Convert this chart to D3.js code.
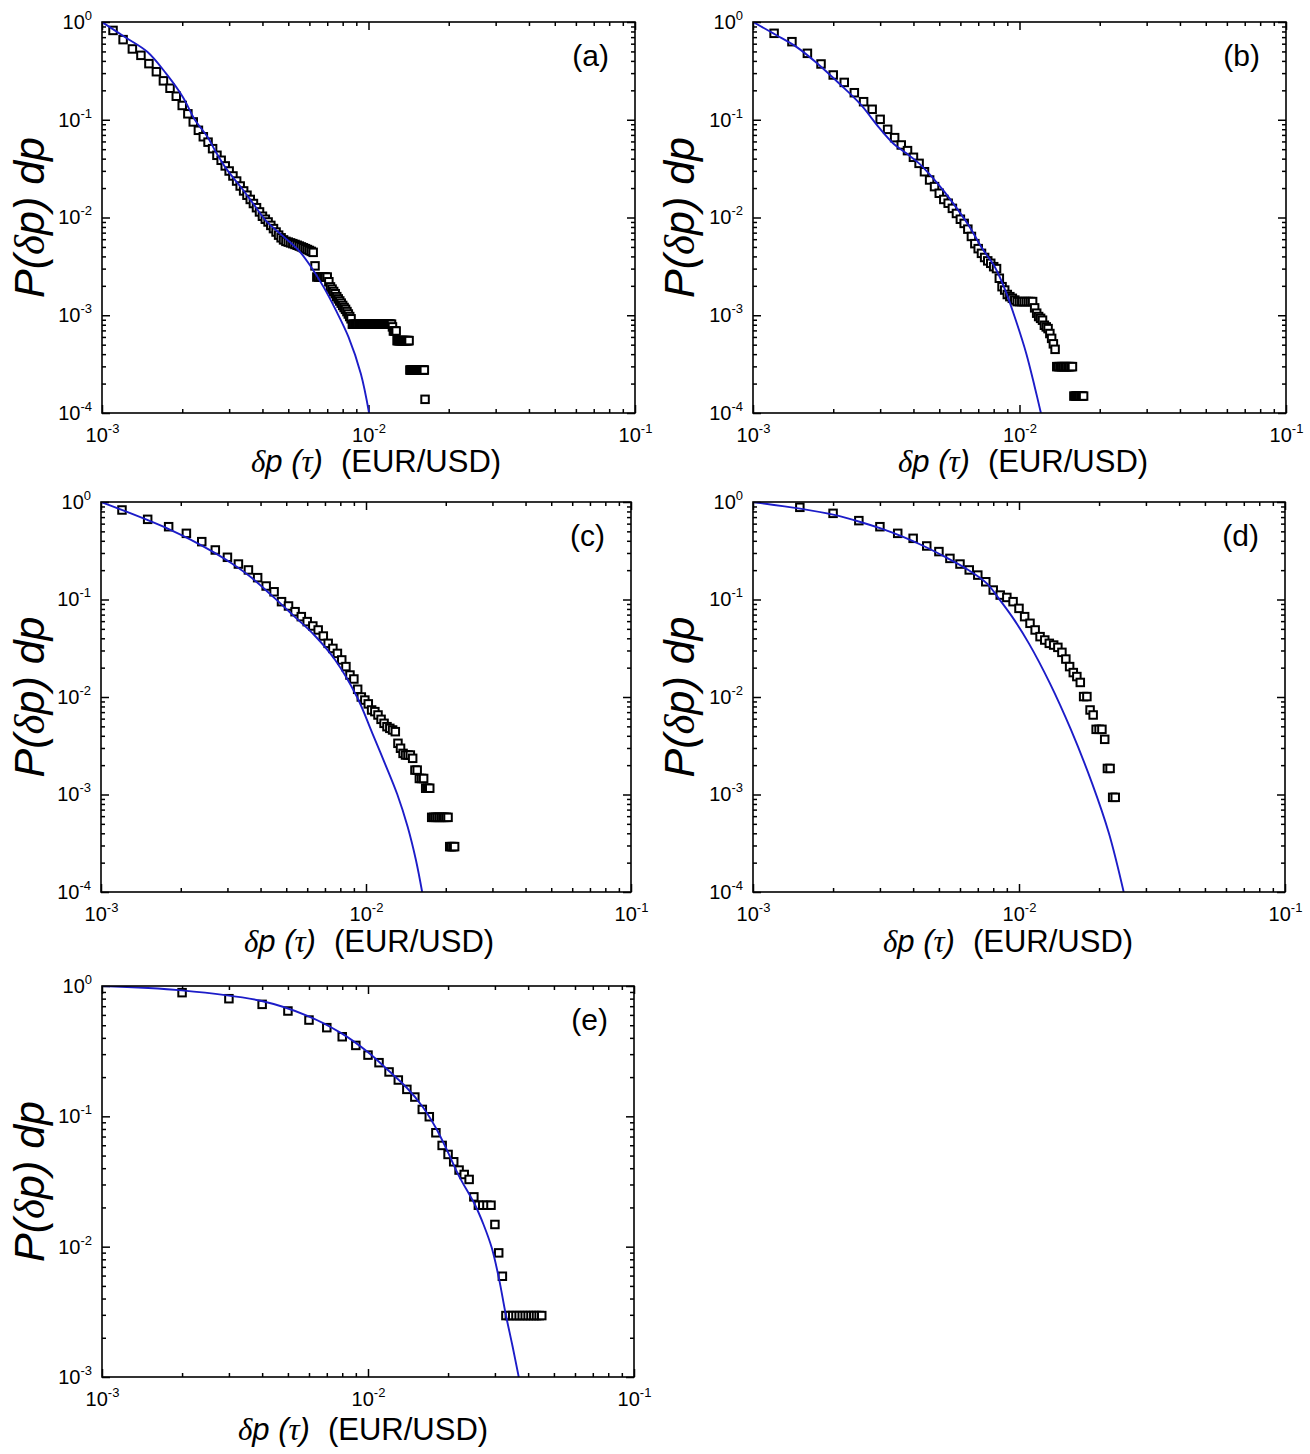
<!DOCTYPE html>
<html><head><meta charset="utf-8">
<script src="https://cdn.jsdelivr.net/npm/d3@7"></script>
<style>body{margin:0;background:#fff} svg{display:block}</style>
</head><body>
<svg id="chart" width="1310" height="1454"></svg>
<script>
// x values are in units of 1e-3 EUR/USD
const xTickValues = [1, 10, 100];
const xTickExps = ["-3", "-2", "-1"];
const yTickValues4 = [1, 0.1, 0.01, 0.001, 0.0001];
const yTickExps4 = ["0", "-1", "-2", "-3", "-4"];
const yTickValues3 = [1, 0.1, 0.01, 0.001];
const yTickExps3 = ["0", "-1", "-2", "-3"];
const panelLabels = ["(a)", "(b)", "(c)", "(d)", "(e)"];

const aX = [1.1,1.2,1.3,1.4,1.5,1.6,1.7,1.8,1.9,2.0,
2.1,2.2,2.3,2.4,2.5,2.6,2.7,2.8,2.9,3.0,
3.1,3.2,3.3,3.4,3.5,3.6,3.7,3.8,3.9,4.0,
4.1,4.2,4.3,4.4,4.5,4.6,4.7,4.8,4.9,5.0,
5.1,5.2,5.3,5.4,5.5,5.6,5.7,5.8,5.9,6.0,
6.1,6.2,6.3,6.4,6.5,6.6,6.7,6.8,6.9,7.0,
7.1,7.2,7.3,7.4,7.5,7.6,7.7,7.8,7.9,8.0,
8.1,8.2,8.3,8.4,8.5,8.6,8.7,8.8,8.9,9.0,
9.1,9.2,9.3,9.4,9.5,9.6,9.7,9.8,9.9,10.0,
10.1,10.2,10.3,10.4,10.5,10.6,10.7,10.8,10.9,11.0,
11.1,11.2,11.3,11.4,11.5,11.6,11.7,11.8,11.9,12.0,
12.1,12.2,12.3,12.4,12.5,12.6,12.7,12.8,12.9,13.0,
13.1,13.2,13.3,13.4,13.5,13.6,13.7,13.8,13.9,14.0,
14.1,14.2,14.3,14.4,14.5,14.6,14.7,14.8,14.9,15.0,
15.1,15.2,15.3,15.4,15.5,15.6,15.7,15.8,15.9,16.0,
16.1,16.2,16.3];
const aY = [0.82,0.66,0.53,0.456,0.375,0.31,0.25,0.21,0.174,0.14,
0.115,0.095,0.078,0.067,0.059,0.0506,0.0433,0.0385,0.0337,0.0299,
0.0266,0.0236,0.021,0.0187,0.0169,0.0153,0.0139,0.0126,0.0114,0.0103,
0.0096,0.009,0.0083,0.0077,0.0071,0.0066,0.0062,0.0059,0.0057,0.0056,
0.0055,0.0054,0.0053,0.0052,0.0051,0.005,0.0049,0.0048,0.0047,0.0046,
0.0045,0.0044,0.0032,0.00246,0.00246,0.00246,0.00246,0.00246,0.00246,0.00246,
0.0022,0.00195,0.00185,0.00175,0.00166,0.00155,0.00147,0.0014,0.00133,0.00126,
0.0012,0.00115,0.00109,0.00103,0.00097,0.00092,0.00081,0.00081,0.00081,0.00081,
0.00081,0.00081,0.00081,0.00081,0.00081,0.00081,0.00081,0.00081,0.00081,0.00081,
0.00081,0.00081,0.00081,0.00081,0.00081,0.00081,0.00081,0.00081,0.00081,0.00081,
0.00081,0.00081,0.00081,0.00081,0.00081,0.00081,0.00081,0.00081,0.00081,0.00081,
0.00081,0.00081,0.00076,0.00069,0.00069,0.00069,0.00069,0.00055,0.00055,0.00055,
0.00055,0.00055,0.00055,0.00055,0.00055,0.00055,0.00055,0.00055,0.00055,0.00055,
0.00055,0.00055,0.000275,0.000275,0.000275,0.000275,0.000275,0.000275,0.000275,0.000275,
0.000275,0.000275,0.000275,0.000275,0.000275,0.000275,0.000275,0.000275,0.000275,0.000275,
0.000275,0.000275,0.000138];
const aFitX = [1,1.218,1.482,1.741,2.01,2.237,2.49,2.675,2.925,3.317,3.69,4.11,4.74,5.47,6.09,6.78,7.55,8.41,9.36,10.05];
const aFitY = [1,0.702,0.493,0.296,0.171,0.0986,0.0667,0.0468,0.0316,0.0205,0.0139,0.00935,0.00657,0.00461,0.00312,0.00195,0.00112,0.0006,0.000252,0.0001];

const bX = [1.2,1.4,1.6,1.8,2.0,2.2,2.4,2.6,2.8,3.0,
3.2,3.4,3.6,3.8,4.0,4.2,4.4,4.6,4.8,5.0,
5.2,5.4,5.6,5.8,6.0,6.2,6.4,6.6,6.8,7.0,
7.2,7.4,7.6,7.8,8.0,8.2,8.4,8.6,8.8,9.0,
9.2,9.4,9.6,9.8,10.0,10.2,10.4,10.6,10.8,11.0,
11.2,11.4,11.6,11.8,12.0,12.2,12.4,12.6,12.8,13.0,
13.2,13.4,13.6,13.8,14.0,14.2,14.4,14.6,14.8,15.0,
15.2,15.4,15.6,15.8,16.0,16.2,16.4,16.6,16.8,17.0,
17.2,17.4];
const bY = [0.766,0.629,0.478,0.372,0.287,0.241,0.189,0.153,0.128,0.101,
0.0798,0.0656,0.0552,0.0483,0.0413,0.0358,0.0294,0.0242,0.0207,0.0177,
0.0153,0.014,0.0124,0.011,0.0096,0.0087,0.0076,0.0064,0.0054,0.0048,
0.0043,0.0039,0.0036,0.0034,0.00314,0.003,0.00239,0.00196,0.00181,0.00163,
0.00155,0.00149,0.00143,0.00138,0.00138,0.00138,0.00138,0.00138,0.00138,0.00138,
0.00138,0.00119,0.00105,0.00097,0.00093,0.00089,0.00079,0.00076,0.00073,0.00065,
0.00058,0.00051,0.000448,0.000298,0.000298,0.000298,0.000298,0.000298,0.000298,0.000298,
0.000298,0.000298,0.000298,0.000298,0.000149,0.000149,0.000149,0.000149,0.000149,0.000149,
0.000149,0.000149];
const bFitX = [1,1.221,1.464,1.756,2.106,2.525,2.973,3.376,3.765,4.198,4.682,5.221,5.821,6.493,7.238,8.072,8.84,9.68,10.6,11.4,12.03];
const bFitY = [1,0.736,0.55,0.37,0.235,0.145,0.083,0.0565,0.0453,0.0358,0.0262,0.01837,0.0124,0.00806,0.00484,0.00314,0.00181,0.000894,0.000407,0.000186,0.0001];

const cX = [1.2,1.5,1.8,2.1,2.4,2.7,3.0,3.3,3.6,3.9,
4.2,4.5,4.8,5.1,5.4,5.7,6.0,6.3,6.6,6.9,
7.2,7.5,7.8,8.1,8.4,8.7,9.0,9.3,9.6,9.9,
10.2,10.5,10.8,11.1,11.4,11.7,12.0,12.3,12.6,12.9,
13.2,13.5,13.8,14.1,14.4,14.7,15.0,15.3,15.6,15.9,
16.2,16.5,16.8,17.1,17.4,17.7,18.0,18.3,18.6,18.9,
19.2,19.5,19.8,20.1,20.4,20.7,21.0,21.3,21.6];
const cY = [0.828,0.664,0.558,0.477,0.392,0.322,0.271,0.231,0.201,0.1675,
0.1375,0.12,0.095,0.0858,0.075,0.0667,0.0593,0.0535,0.0487,0.0422,
0.0355,0.0315,0.028,0.024,0.0205,0.0168,0.0153,0.012,0.01,0.0093,
0.0085,0.00736,0.00708,0.00654,0.0059,0.00537,0.00496,0.00477,0.00459,0.00441,
0.00335,0.00298,0.00264,0.00254,0.00254,0.00254,0.00235,0.00178,0.00178,0.00146,
0.00146,0.00146,0.00116,0.00116,0.00116,0.000583,0.000583,0.000583,0.000583,0.000583,
0.000583,0.000583,0.000583,0.000583,0.000583,0.000292,0.000292,0.000292,0.000292];
const cFitX = [1,1.219,1.496,1.811,2.168,2.597,3.109,3.723,4.457,5.337,6.39,7.65,9.25,10.57,11.78,13.13,14.36,15.43,16.29];
const cFitY = [1,0.815,0.654,0.525,0.414,0.317,0.235,0.165,0.107,0.068,0.043,0.024,0.01,0.00424,0.00209,0.001,0.000467,0.000213,0.0001];

const dX = [1.5,2.0,2.5,3.0,3.5,4.0,4.5,5.0,5.5,6.0,
6.5,7.0,7.5,8.0,8.5,9.0,9.5,10.0,10.5,11.0,
11.5,12.0,12.5,13.0,13.5,14.0,14.5,15.0,15.5,16.0,
16.5,17.0,17.5,18.0,18.5,19.0,19.5,20.0,20.5,21.0,
21.5,22.0,22.5,23.0];
const dY = [0.882,0.765,0.644,0.558,0.477,0.424,0.354,0.31,0.264,0.231,
0.201,0.178,0.152,0.125,0.111,0.105,0.095,0.0811,0.0667,0.057,
0.0487,0.0416,0.0384,0.0355,0.0341,0.0323,0.0287,0.0245,0.0205,0.0178,
0.0162,0.0141,0.0101,0.0101,0.00736,0.00654,0.00466,0.00466,0.00466,0.00368,
0.00185,0.00185,0.000935,0.000935];
const dFitX = [1,1.504,2.0,2.534,3.04,3.649,4.378,5.254,6.304,7.566,8.44,9.417,10.89,13.07,15.69,18.83,21.78,24.75];
const dFitY = [1,0.854,0.741,0.624,0.5326,0.441,0.3537,0.275,0.2088,0.1465,0.1004,0.0667,0.0355,0.0138,0.00459,0.0013,0.0004,0.0001];

const eX = [2,3,4,5,6,7,8,9,10,11,
12,13,14,15,16,17,18,19,20,21,
22,23,24,25,26,27,28,29,30,31,
32,33,34,35,36,37,38,39,40,41,
42,43,44,45];
const eY = [0.889,0.799,0.723,0.643,0.548,0.479,0.408,0.35,0.295,0.258,
0.219,0.19,0.161,0.1406,0.113,0.0993,0.0748,0.0598,0.051,0.0448,
0.0387,0.0358,0.0328,0.0241,0.0208,0.0208,0.0208,0.0208,0.0148,0.00896,
0.00593,0.00296,0.00296,0.00296,0.00296,0.00296,0.00296,0.00296,0.00296,0.00296,
0.00296,0.00296,0.00296,0.00296];
const eFitX = [1,1.992,3.984,5.953,7.962,9.98,11.99,13.99,15.97,17.98,19.89,21.99,25.29,27.18,29.19,31.13,32.87,34.95,36.87];
const eFitY = [1,0.926,0.767,0.588,0.433,0.3113,0.2225,0.1657,0.1199,0.0817,0.0541,0.0348,0.0208,0.0148,0.0098,0.00559,0.0031,0.00172,0.001];

// layout (positions only)
const layout = [
  {xs:aX, ys:aY, fx:aFitX, fy:aFitY, yMin:1e-4, yt:yTickValues4, ye:yTickExps4, L:102, R:635, T:22, B:413, xtx:376, xty:472, ytx:44},
  {xs:bX, ys:bY, fx:bFitX, fy:bFitY, yMin:1e-4, yt:yTickValues4, ye:yTickExps4, L:753, R:1286, T:22, B:413, xtx:1023, xty:472, ytx:694},
  {xs:cX, ys:cY, fx:cFitX, fy:cFitY, yMin:1e-4, yt:yTickValues4, ye:yTickExps4, L:101, R:631, T:502, B:892, xtx:369, xty:952, ytx:44},
  {xs:dX, ys:dY, fx:dFitX, fy:dFitY, yMin:1e-4, yt:yTickValues4, ye:yTickExps4, L:753, R:1285, T:502, B:892, xtx:1008, xty:952, ytx:694},
  {xs:eX, ys:eY, fx:eFitX, fy:eFitY, yMin:1e-3, yt:yTickValues3, ye:yTickExps3, L:102, R:634, T:986, B:1377, xtx:363, xty:1440, ytx:44}
];

const svg = d3.select("#chart");
const FONT = "'Liberation Sans', Arial, sans-serif";
const BLUE = "#1c1cc8";

function minorTicks(lo, hi) {
  const out = [];
  for (let d = lo; d < hi * 0.999; d *= 10) for (let k = 2; k <= 9; k++) out.push(d * k);
  return out;
}

layout.forEach((p, i) => {
  const x = d3.scaleLog().domain([1, 100]).range([p.L, p.R]);
  const y = d3.scaleLog().domain([p.yMin, 1]).range([p.B, p.T]);
  const g = svg.append("g");
  const clipId = "clip" + i;
  svg.append("clipPath").attr("id", clipId).append("rect")
    .attr("x", p.L).attr("y", p.T).attr("width", p.R - p.L).attr("height", p.B - p.T);

  const xMin = minorTicks(1, 100), yMinT = minorTicks(p.yMin, 1);
  function tickAxis(axisFn, scale, vals, size, transform) {
    const a = g.append("g").attr("transform", transform)
      .call(axisFn(scale).tickValues(vals).tickSizeInner(-size).tickSizeOuter(0).tickFormat(""));
    a.select(".domain").remove();
    a.selectAll(".tick line").attr("stroke", "#000").attr("stroke-width", 1.5);
  }
  tickAxis(d3.axisBottom, x, xTickValues, 8, `translate(0,${p.B})`);
  tickAxis(d3.axisBottom, x, xMin, 4, `translate(0,${p.B})`);
  tickAxis(d3.axisTop, x, xTickValues, 8, `translate(0,${p.T})`);
  tickAxis(d3.axisTop, x, xMin, 4, `translate(0,${p.T})`);
  tickAxis(d3.axisLeft, y, p.yt, 8, `translate(${p.L},0)`);
  tickAxis(d3.axisLeft, y, yMinT, 4, `translate(${p.L},0)`);
  tickAxis(d3.axisRight, y, p.yt, 8, `translate(${p.R},0)`);
  tickAxis(d3.axisRight, y, yMinT, 4, `translate(${p.R},0)`);

  // tick labels
  const xl = g.append("g").attr("transform", `translate(0,${p.B})`)
    .call(d3.axisBottom(x).tickValues(xTickValues).tickSize(0).tickPadding(15));
  xl.select(".domain").remove();
  xl.attr("font-family", FONT).attr("font-size", 20);
  xl.selectAll(".tick text").each(function(d, j) {
    const t = d3.select(this).text(null).attr("fill", "#000");
    t.append("tspan").text("10");
    t.append("tspan").attr("dy", -9).attr("font-size", 13).text(xTickExps[j]);
  });
  const yl = g.append("g").attr("transform", `translate(${p.L},0)`)
    .call(d3.axisLeft(y).tickValues(p.yt).tickSize(0).tickPadding(10));
  yl.select(".domain").remove();
  yl.attr("font-family", FONT).attr("font-size", 20);
  yl.selectAll(".tick text").each(function(d, j) {
    const t = d3.select(this).text(null).attr("fill", "#000");
    t.append("tspan").text("10");
    t.append("tspan").attr("dy", -9).attr("font-size", 13).text(p.ye[j]);
  });

  // data squares
  const pts = p.xs.map((v, k) => [v, p.ys[k]]);
  const s = 7.5;
  g.append("g").attr("clip-path", `url(#${clipId})`).selectAll("rect.pt").data(pts).join("rect")
    .attr("x", d => x(d[0]) - s / 2).attr("y", d => y(d[1]) - s / 2)
    .attr("width", s).attr("height", s)
    .attr("fill", "#fff").attr("stroke", "#000").attr("stroke-width", 2);

  // fit curve
  const fit = p.fx.map((v, k) => [v, p.fy[k]]);
  g.append("path").attr("clip-path", `url(#${clipId})`).datum(fit)
    .attr("d", d3.line().x(d => x(d[0])).y(d => y(d[1])).curve(d3.curveCatmullRom.alpha(0.5)))
    .attr("fill", "none").attr("stroke", BLUE).attr("stroke-width", 1.9);

  // frame
  g.append("rect").attr("x", p.L).attr("y", p.T).attr("width", p.R - p.L).attr("height", p.B - p.T)
    .attr("fill", "none").attr("stroke", "#000").attr("stroke-width", 1.6);

  // panel label
  g.append("text").attr("x", p.R - 26).attr("y", p.T + 44).attr("text-anchor", "end")
    .attr("font-family", FONT).attr("font-size", 30).text(panelLabels[i]);

  // x title
  const xt = g.append("text").attr("x", p.xtx).attr("y", p.xty).attr("text-anchor", "middle")
    .attr("font-family", FONT).attr("font-size", 31);
  xt.append("tspan").attr("font-family", "'Liberation Serif', serif").attr("font-style", "italic").text("δ");
  xt.append("tspan").attr("font-style", "italic").text("p (");
  xt.append("tspan").attr("font-family", "'Liberation Serif', serif").attr("font-style", "italic").text("τ");
  xt.append("tspan").attr("font-style", "italic").text(")");
  xt.append("tspan").attr("dx", 18).text("(EUR/USD)");

  // y title
  const yt = g.append("text").attr("transform", `translate(${p.ytx},${(p.T + p.B) / 2}) rotate(-90)`)
    .attr("text-anchor", "middle").attr("font-family", FONT).attr("font-size", 43).attr("font-style", "italic");
  yt.append("tspan").text("P(");
  yt.append("tspan").attr("font-family", "'Liberation Serif', serif").text("δ");
  yt.append("tspan").text("p) dp");
});
</script>
</body></html>
